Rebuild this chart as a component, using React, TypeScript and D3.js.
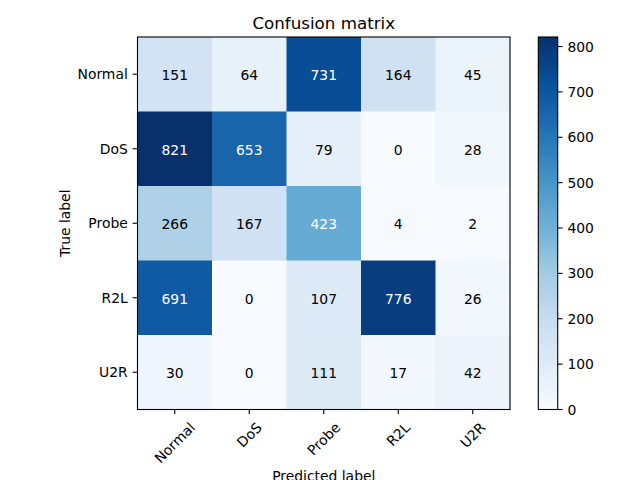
import React from "react";
import * as d3 from "d3";

const classes = ["Normal", "DoS", "Probe", "R2L", "U2R"];
const rowNormal = [151, 64, 731, 164, 45];
const rowDoS = [821, 653, 79, 0, 28];
const rowProbe = [266, 167, 423, 4, 2];
const rowR2L = [691, 0, 107, 776, 26];
const rowU2R = [30, 0, 111, 17, 42];
const matrix = [rowNormal, rowDoS, rowProbe, rowR2L, rowU2R];
const cbTicks = [0, 100, 200, 300, 400, 500, 600, 700, 800];

const bluesStops = ["#f7fbff", "#deebf7", "#c6dbef", "#9ecae1", "#6baed6", "#4292c6", "#2171b5", "#08519c", "#08306b"];

const FONT = "DejaVu Sans, sans-serif";
const FS = 13.9;

function measure(text: string, size: number): number {
  try {
    const c = document.createElement("canvas").getContext("2d");
    if (c) {
      c.font = `${size}px "DejaVu Sans"`;
      return c.measureText(text).width;
    }
  } catch (e) {}
  return text.length * size * 0.6;
}

export default function App() {
  const W = 640, H = 480;
  const left = 137.5, right = 510, top = 37, bottom = 409.5;
  const cbLeft = 538.3, cbRight = 557.7;

  const vmax = d3.max(matrix.flat()) as number;
  const vmin = d3.min(matrix.flat()) as number;

  const x = d3.scaleBand<string>().domain(classes).range([left, right]).padding(0);
  const y = d3.scaleBand<string>().domain(classes).range([top, bottom]).padding(0);
  const t = d3.scaleLinear().domain([0, 1]);
  const blues = d3
    .scaleLinear<string>()
    .domain(bluesStops.map((_, i) => i / (bluesStops.length - 1)))
    .range(bluesStops)
    .interpolate(d3.interpolateRgb);
  const color = (v: number) => blues(t((v - vmin) / (vmax - vmin)));
  const cbScale = d3.scaleLinear().domain([vmin, vmax]).range([bottom, top]);
  const thresh = vmax / 2;

  const gradStops = d3.range(0, 1.0001, 0.02);
  const tickLen = 4.86;
  const pad = 4.86;

  return (
    <svg width={W} height={H} style={{ position: "absolute", left: 0, top: 0, fontFamily: FONT }}>
      <defs>
        <linearGradient id="cb" x1="0" y1="1" x2="0" y2="0">
          {gradStops.map((s) => (
            <stop key={s} offset={s} stopColor={blues(s)} />
          ))}
        </linearGradient>
      </defs>
      <rect width={W} height={H} fill="white" />
      {matrix.map((row, i) =>
        row.map((v, j) => (
          <rect
            key={`${i}-${j}`}
            x={x(classes[j])}
            y={y(classes[i])}
            width={x.bandwidth() + 0.5}
            height={y.bandwidth() + 0.5}
            fill={color(v)}
          />
        ))
      )}
      {matrix.map((row, i) =>
        row.map((v, j) => (
          <text
            key={`t${i}-${j}`}
            x={(x(classes[j]) as number) + x.bandwidth() / 2}
            y={(y(classes[i]) as number) + y.bandwidth() / 2 + 1}
            textAnchor="middle"
            dominantBaseline="central"
            fontSize={FS}
            fill={v > thresh ? "white" : "black"}
          >
            {v}
          </text>
        ))
      )}
      <rect x={left} y={top} width={right - left} height={bottom - top} fill="none" stroke="black" strokeWidth={1.1} />
      {classes.map((c) => {
        const cy = (y(c) as number) + y.bandwidth() / 2;
        return (
          <g key={`y${c}`}>
            <line x1={left - tickLen} x2={left} y1={cy} y2={cy} stroke="black" strokeWidth={1.1} />
            <text x={left - tickLen - pad} y={cy} textAnchor="end" dominantBaseline="central" fontSize={FS} fill="black">
              {c}
            </text>
          </g>
        );
      })}
      {classes.map((c) => {
        const cx = (x(c) as number) + x.bandwidth() / 2;
        const w = measure(c, FS);
        const h = FS * 1.17;
        const bh = (w + h) * Math.SQRT1_2;
        const ty = bottom + tickLen + pad;
        const cy = ty + bh / 2;
        return (
          <g key={`x${c}`}>
            <line x1={cx} x2={cx} y1={bottom} y2={bottom + tickLen} stroke="black" strokeWidth={1.1} />
            <text
              x={cx}
              y={cy}
              textAnchor="middle"
              dominantBaseline="central"
              fontSize={FS}
              fill="black"
              transform={`rotate(-45 ${cx} ${cy})`}
            >
              {c}
            </text>
          </g>
        );
      })}
      <text x={(left + right) / 2} y={28.5} textAnchor="middle" fontSize={16.7} fill="black">
        Confusion matrix
      </text>
      <text x={(left + right) / 2} y={480.5} textAnchor="middle" fontSize={FS} fill="black">
        Predicted label
      </text>
      <text
        x={69.5}
        y={(top + bottom) / 2}
        textAnchor="middle"
        fontSize={FS}
        fill="black"
        transform={`rotate(-90 69.5 ${(top + bottom) / 2})`}
      >
        True label
      </text>
      <rect x={cbLeft} y={top} width={cbRight - cbLeft} height={bottom - top} fill="url(#cb)" />
      <rect x={cbLeft} y={top} width={cbRight - cbLeft} height={bottom - top} fill="none" stroke="black" strokeWidth={1.1} />
      {cbTicks.map((v) => (
        <g key={`cb${v}`}>
          <line x1={cbRight} x2={cbRight + tickLen} y1={cbScale(v)} y2={cbScale(v)} stroke="black" strokeWidth={1.1} />
          <text x={cbRight + tickLen + pad} y={cbScale(v)} dominantBaseline="central" fontSize={FS} fill="black">
            {v}
          </text>
        </g>
      ))}
    </svg>
  );
}
